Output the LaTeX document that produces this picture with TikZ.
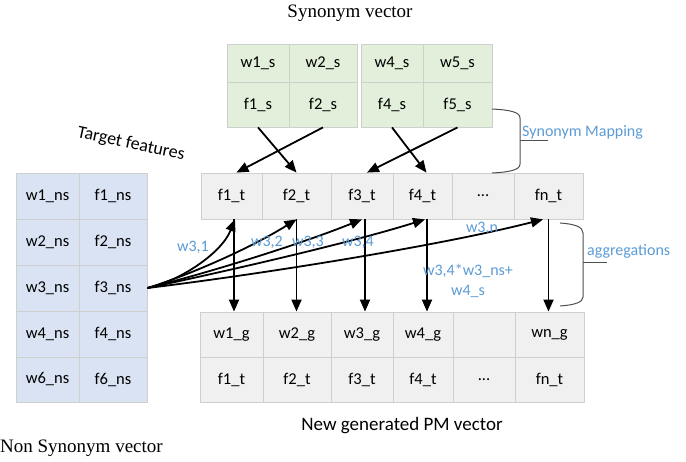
\documentclass[tikz,border=0pt]{standalone}
\usepackage{fontspec}
\setmainfont{Carlito}
\newfontfamily\titlefont{Liberation Serif}
\usetikzlibrary{arrows.meta,calc}

\definecolor{greenfill}{RGB}{226,239,218}
\definecolor{bluefill}{RGB}{218,227,243}
\definecolor{grayfill}{RGB}{240,240,240}
\definecolor{cellline}{RGB}{205,208,205}
\definecolor{labelblue}{RGB}{91,155,213}
\definecolor{braceline}{RGB}{80,80,80}

% one table cell: style, name, x1, y1, x2, y2, text
\newcommand\mkcell[7]{%
  \node[#1, minimum width={#5-#3}, minimum height={#6-#4}] (#2)
    at ({(#3+#5)/2},{(#4+#6)/2}) {#7};}

\begin{document}
\begin{tikzpicture}[x=1pt,y=-1pt,
  cellbase/.style={draw=cellline, line width=0.8pt, inner sep=0pt,
    font=\fontsize{16.5}{18}\selectfont},
  gcell/.style={cellbase, fill=greenfill},
  bcell/.style={cellbase, fill=bluefill},
  tcell/.style={cellbase, fill=grayfill},
  arr/.style={draw=black, line width=1.8pt, -{Triangle[length=12pt,width=10pt]}},
  lbl/.style={text=labelblue, font=\fontsize{16}{18}\selectfont, inner sep=0pt},
  title/.style={font=\titlefont\fontsize{19}{22}\selectfont, inner sep=0pt},
  brace/.style={draw=braceline, line width=1pt}]
\useasboundingbox (0,0) rectangle (686,462);

% synonym vector
\mkcell{gcell}{sw1}{227}{44}{289}{82}{w1\_s}
\mkcell{gcell}{sw2}{289}{44}{357}{82}{w2\_s}
\mkcell{gcell}{sf1}{227}{82}{289}{127}{f1\_s}
\mkcell{gcell}{sf2}{289}{82}{357}{127}{f2\_s}
\mkcell{gcell}{sw4}{361}{44}{423}{82}{w4\_s}
\mkcell{gcell}{sw5}{423}{44}{492}{82}{w5\_s}
\mkcell{gcell}{sf4}{361}{82}{423}{127}{f4\_s}
\mkcell{gcell}{sf5}{423}{82}{492}{127}{f5\_s}

% target features
\mkcell{tcell}{t1}{201}{173}{262}{219}{f1\_t}
\mkcell{tcell}{t2}{262}{173}{331}{219}{f2\_t}
\mkcell{tcell}{t3}{331}{173}{393}{219}{f3\_t}
\mkcell{tcell}{t4}{393}{173}{452}{219}{f4\_t}
\mkcell{tcell}{td}{452}{173}{514}{219}{...}
\mkcell{tcell}{tn}{514}{173}{583}{219}{fn\_t}

% generated vector
\mkcell{tcell}{g1}{200}{312}{263}{357}{w1\_g}
\mkcell{tcell}{g2}{263}{312}{331}{357}{w2\_g}
\mkcell{tcell}{g3}{331}{312}{393}{357}{w3\_g}
\mkcell{tcell}{g4}{393}{312}{453}{357}{w4\_g}
\mkcell{tcell}{gd}{453}{312}{515}{357}{}
\mkcell{tcell}{gn}{515}{312}{584}{357}{wn\_g}
\mkcell{tcell}{h1}{200}{357}{263}{402}{f1\_t}
\mkcell{tcell}{h2}{263}{357}{331}{402}{f2\_t}
\mkcell{tcell}{h3}{331}{357}{393}{402}{f3\_t}
\mkcell{tcell}{h4}{393}{357}{453}{402}{f4\_t}
\mkcell{tcell}{hd}{453}{357}{515}{402}{...}
\mkcell{tcell}{hn}{515}{357}{584}{402}{fn\_t}

% non synonym vector
\mkcell{bcell}{n11}{16}{173}{79}{219}{w1\_ns}
\mkcell{bcell}{n12}{79}{173}{147}{219}{f1\_ns}
\mkcell{bcell}{n21}{16}{219}{79}{265}{w2\_ns}
\mkcell{bcell}{n22}{79}{219}{147}{265}{f2\_ns}
\mkcell{bcell}{n31}{16}{265}{79}{311}{w3\_ns}
\mkcell{bcell}{n32}{79}{265}{147}{311}{f3\_ns}
\mkcell{bcell}{n41}{16}{311}{79}{357}{w4\_ns}
\mkcell{bcell}{n42}{79}{311}{147}{357}{f4\_ns}
\mkcell{bcell}{n61}{16}{357}{79}{402}{w6\_ns}
\mkcell{bcell}{n62}{79}{357}{147}{402}{f6\_ns}

% titles
\node[title] (ttop) at (350,13) {Synonym vector};
\node[title, anchor=west] (tleft) at (0,448) {Non Synonym vector};
\node[font=\fontsize{19}{22}\selectfont, inner sep=0pt] (tbottom) at (402,426) {New generated PM vector};
\node[font=\fontsize{18}{20}\selectfont, inner sep=0pt, rotate=-12] (tfeat) at (131,144) {Target features};

% synonym mapping arrows
\draw[arr] (sf1.south) -- (t2.north);
\draw[arr] (sf2.south) -- ([xshift=5pt]t1.north);
\draw[arr] (sf4.south) -- ([xshift=4pt]t4.north);
\draw[arr] (sf5.south) -- ([xshift=5pt]t3.north);

% weighted links from f3_ns
\draw[arr] (n32.east) .. controls +(30,-6) and +(-14,35) .. ([xshift=3.5pt]t1.south);
\draw[arr] (n32.east) .. controls +(45,-14) and +(-45,28) .. (t2.south);
\draw[arr] (n32.east) .. controls +(60,-15) and +(-65,26) .. (t3.south);
\draw[arr] (n32.east) .. controls +(70,-15) and +(-80,25) .. ([xshift=2.5pt]t4.south);
\draw[arr] (n32.east) .. controls +(100,-12) and +(-110,28) .. ([xshift=-5.5pt]tn.south);

% aggregation arrows
\draw[arr] ([xshift=2.5pt]t1.south) -- ([xshift=2.5pt]t1.south |- g1.north);
\draw[arr] (t2.south) -- (t2.south |- g2.north);
\draw[arr] ([xshift=3pt]t3.south) -- ([xshift=3pt]t3.south |- g3.north);
\draw[arr] ([xshift=4.5pt]t4.south) -- ([xshift=4.5pt]t4.south |- g4.north);
\draw[arr] (tn.south) -- (tn.south |- gn.north);

% weight labels
\node[lbl] (w31) at (193,247) {w3,1};
\node[lbl] (w32) at (267,242) {w3,2};
\node[lbl] (w33) at (308,242) {w3,3};
\node[lbl] (w34) at (358,242) {w3,4};
\node[lbl] (w3n) at (482,228) {w3,n};
\node[lbl, align=center] (wsum) at (468,281) {w3,4*w3\_ns+\\[2pt]w4\_s};

% braces
\draw[brace] (492,109) .. controls (510,110) and (520,112) .. (520,118)
  -- (520,164) .. controls (520,170) and (510,172) .. (492,173);
\draw[brace] (520,141) -- (548,141);
\node[lbl, anchor=west] (lmap) at (522,132) {Synonym Mapping};

\draw[brace] (560,223) .. controls (575,224) and (583,227) .. (583,233)
  -- (583,297) .. controls (583,302) and (575,305) .. (560,306);
\draw[brace] (583,263) -- (607,263);
\node[lbl, anchor=west] (lagg) at (587,251) {aggregations};
\end{tikzpicture}
\end{document}
